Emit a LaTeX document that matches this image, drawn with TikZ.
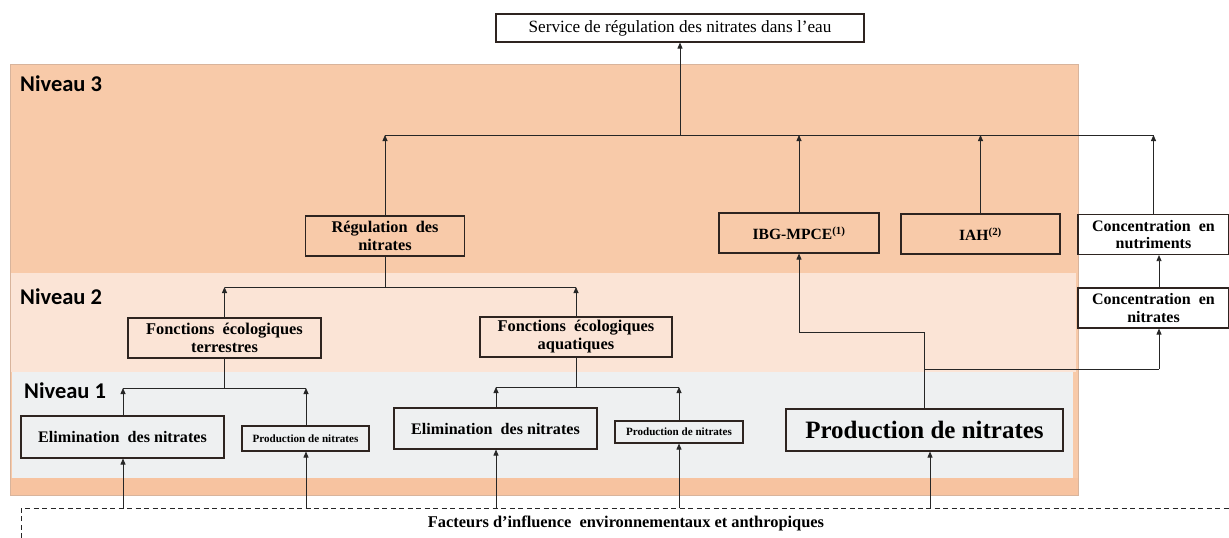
\documentclass[tikz,border=0pt]{standalone}
\usepackage{fontspec}
\setmainfont{Liberation Serif}
\newfontfamily\calib{Carlito}
\usetikzlibrary{arrows.meta,calc}
\definecolor{nivthree}{HTML}{F8CAA9}
\definecolor{nivtwo}{HTML}{FBE4D6}
\definecolor{nivone}{HTML}{EEF0F1}
\definecolor{stripc}{HTML}{F7C3A0}
\definecolor{panelborder}{HTML}{D8B49C}
\definecolor{boxline}{HTML}{2E2420}
\newcommand{\fs}[1]{\fontsize{#1}{1.1\dimexpr #1pt\relax}\selectfont}
\begin{document}
\begin{tikzpicture}[x=1pt,y=-1pt,
  box/.style={draw=boxline, line width=1.1pt, inner sep=0pt, align=center, font=\bfseries},
  wbox/.style={box, fill=white},
  conn/.style={draw=black!85, line width=0.8pt},
  arr/.style={conn, -{Triangle[length=6pt,width=5pt]}},
  niv/.style={anchor=west, font=\calib\bfseries\fontsize{22.5}{26}\selectfont, inner sep=0pt},
  dashline/.style={draw=black!85, line width=0.8pt, dash pattern=on 5pt off 3.5pt}
]
\useasboundingbox (0,0) rectangle (1229,538);
% panel
\fill[nivthree] (10,64) rectangle (1078,495);
\fill[nivtwo] (10,273) rectangle (1076,372);
\fill[nivone] (12,372) rectangle (1073,478);
\fill[stripc] (10,478) rectangle (1078,495);
\draw[panelborder, line width=0.8pt] (10,64) rectangle (1078,495);
\node[niv] (n3) at (20,84) {Niveau 3};
\node[niv] (n2) at (20,297) {Niveau 2};
\node[niv] (n1) at (24,391) {Niveau 1};
% nodes
\node[wbox, font=\fs{17.2}, minimum width=368pt, minimum height=28pt] (top) at (680,28) {Service de régulation des nitrates dans l'eau};
\node[box, font=\bfseries\fs{16.3}, minimum width=159pt, minimum height=40pt] (reg) at (385,236) {Régulation\ \ des\\nitrates};
\node[box, font=\bfseries\fs{15.6}, minimum width=160pt, minimum height=40pt] (ibg) at (799,233) {IBG-MPCE\textsuperscript{(1)}};
\node[box, font=\bfseries\fs{15.6}, minimum width=159pt, minimum height=40pt] (iah) at (980.5,234) {IAH\textsuperscript{(2)}};
\node[wbox, font=\bfseries\fs{16}, minimum width=151pt, minimum height=40pt] (cnut) at (1153.5,234.5) {Concentration\ \ en\\nutriments};
\node[wbox, font=\bfseries\fs{16}, minimum width=151pt, minimum height=40pt] (cnit) at (1153.5,308) {Concentration\ \ en\\nitrates};
\node[box, font=\bfseries\fs{16.4}, minimum width=193pt, minimum height=40pt] (fet) at (224.5,338) {Fonctions\ \ écologiques\\terrestres};
\node[box, font=\bfseries\fs{16.4}, minimum width=192pt, minimum height=40pt] (fea) at (576,337) {Fonctions\ \ écologiques\\aquatiques};
\node[box, font=\bfseries\fs{16.1}, minimum width=203pt, minimum height=42pt] (elimA) at (122.5,437) {Elimination\ \ des nitrates};
\node[box, font=\bfseries\fs{11.1}, minimum width=127pt, minimum height=25pt] (prodA) at (305.5,438.5) {Production de nitrates};
\node[box, font=\bfseries\fs{16.1}, minimum width=203pt, minimum height=41pt] (elimB) at (495.5,428.5) {Elimination\ \ des nitrates};
\node[box, font=\bfseries\fs{11.1}, minimum width=128pt, minimum height=22pt] (prodB) at (679,432) {Production de nitrates};
\node[box, font=\bfseries\fs{25}, minimum width=277pt, minimum height=42pt] (prodC) at (924.5,430) {Production de nitrates};
\node[font=\bfseries\fs{16.4}, inner sep=0pt] (fact) at (626,523) {Facteurs d'influence\ \ environnementaux et anthropiques};
% level 3 junction
\coordinate (j3) at (680,135);
\draw[conn] (reg.north |- j3) -- (cnut.north |- j3);
\draw[arr] (j3) -- (top.south);
\draw[arr] (reg.north) -- (reg.north |- j3);
\draw[arr] (ibg.north) -- (ibg.north |- j3);
\draw[arr] (iah.north) -- (iah.north |- j3);
\draw[arr] (cnut.north) -- (cnut.north |- j3);
% level 2 junction
\coordinate (j2) at (385,287);
\draw[conn] (reg.south) -- (j2);
\draw[conn] (fet.north |- j2) -- (fea.north |- j2);
\draw[arr] (fet.north) -- (fet.north |- j2);
\draw[arr] (fea.north) -- (fea.north |- j2);
% level 1 junctions
\coordinate (j1a) at (224.5,388);
\coordinate (j1b) at (576,387);
\coordinate (ea) at (123,0);
\coordinate (pa) at (306,0);
\coordinate (eb) at (496,0);
\coordinate (pb) at (679,0);
\draw[conn] (fet.south) -- (j1a);
\draw[conn] (ea |- j1a) -- (pa |- j1a);
\draw[arr] (ea |- elimA.north) -- (ea |- j1a);
\draw[arr] (pa |- prodA.north) -- (pa |- j1a);
\draw[conn] (fea.south) -- (j1b);
\draw[conn] (eb |- j1b) -- (pb |- j1b);
\draw[arr] (eb |- elimB.north) -- (eb |- j1b);
\draw[arr] (pb |- prodB.north) -- (pb |- j1b);
% big production to IBG and concentration
\coordinate (pc) at (924,0);
\coordinate (kA) at (924,332);
\coordinate (kB) at (924,369);
\coordinate (cx) at (1159,0);
\draw[conn] (pc |- prodC.north) -- (kA) -- (ibg.south |- kA);
\draw[arr] (ibg.south |- kA) -- (ibg.south);
\draw[conn] (kB) -- (cx |- kB);
\draw[arr] (cx |- kB) -- (cx |- cnit.south);
\draw[arr] (cx |- cnit.north) -- (cx |- cnut.south);
% environmental factors
\coordinate (d0) at (21,538);
\coordinate (d1) at (21,508);
\coordinate (d2) at (1229,508);
\draw[dashline] (d0) -- (d1) -- (d2);
\coordinate (pcb) at (930,0);
\draw[arr] (ea |- d1) -- (ea |- elimA.south);
\draw[arr] (pa |- d1) -- (pa |- prodA.south);
\draw[arr] (eb |- d1) -- (eb |- elimB.south);
\draw[arr] (pb |- d1) -- (pb |- prodB.south);
\draw[arr] (pcb |- d1) -- (pcb |- prodC.south);
\end{tikzpicture}
\end{document}
